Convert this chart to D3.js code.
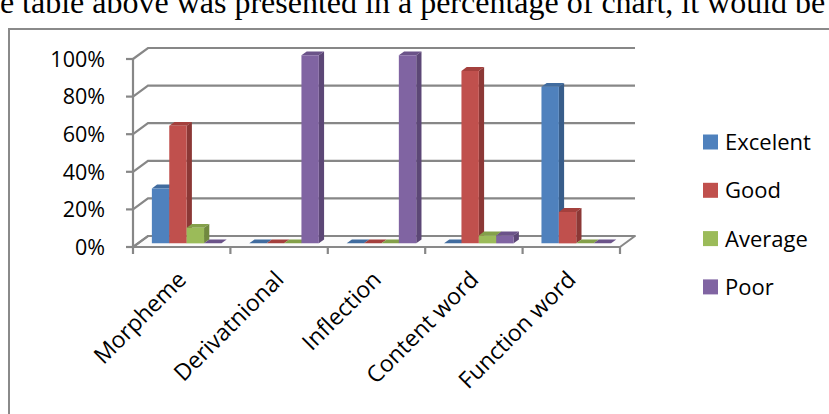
<!DOCTYPE html>
<html>
<head>
<meta charset="utf-8">
<script src="https://cdn.jsdelivr.net/npm/d3@7"></script>
<style>
  body { margin: 0; background: #fff; }
  svg { display: block; }
  .lbl { font-family: 'Open Sans', sans-serif; font-size: 21.5px; fill: #000; }
  .cat { font-size: 23px; }
  .leg { font-size: 22px; }
</style>
</head>
<body>
<div id="chart"></div>
<script>
'use strict';

// data (share of students, 0..1)
const categories = ['Morpheme', 'Derivatnional', 'Inflection', 'Content word', 'Function word'];
const series = ['Excelent', 'Good', 'Average', 'Poor'];
const excelent = [0.292, 0, 0, 0, 0.833];
const good = [0.625, 0, 0, 0.917, 0.167];
const average = [0.083, 0, 0, 0.042, 0];
const poor = [0, 1, 1, 0.042, 0];
const yTicks = [0, 0.2, 0.4, 0.6, 0.8, 1];

const values = [excelent, good, average, poor];
const faceColor = ['#4f81bd', '#c0504d', '#9bbb59', '#8064a2'];
const sideColor = ['#385d8a', '#8c3836', '#71893f', '#5c4776'];
const topColor = ['#416c9f', '#a4403d', '#84a04a', '#6b5389'];

const width = 829, height = 414;
const gridColor = '#878787';

// 3d box: front plane plus a depth vector
const DX = 15, DY = -11;
const barF0 = 0.33, barF1 = 0.68;

let svg = d3.select('#chart').append('svg')
    .attr('width', width)
    .attr('height', height);

// bit of the page text above the chart
svg.append('text')
    .attr('x', -25)
    .attr('y', 13)
    .style('font-family', "'Liberation Serif', serif")
    .style('font-size', '32px')
    .text('the table above was presented in a percentage of chart, it would be');

// chart frame
svg.append('rect')
    .attr('x', 9)
    .attr('y', 29)
    .attr('width', 840)
    .attr('height', 420)
    .attr('fill', 'none')
    .attr('stroke', '#8a8a8a')
    .attr('stroke-width', 2);

let x0 = d3.scaleBand()
    .domain(categories)
    .range([133, 620])
    .paddingInner(0)
    .paddingOuter(0);

let x1 = d3.scaleBand()
    .domain(series)
    .range([0, x0.bandwidth()])
    .paddingInner(0)
    .paddingOuter(0.8);

let y = d3.scaleLinear()
    .domain([0, 1])
    .range([247, 59]);

// point on the front plane pushed back by depth f
function pt(x, v, f) {
    return [x + f * DX, y(v) + f * DY];
}
let line = d3.line();

let xl = x0.range()[0], xr = x0.range()[1];

// floor
svg.append('path')
    .attr('d', line([pt(xl, 0, 0), pt(xr, 0, 0), pt(xr, 0, 1), pt(xl, 0, 1)]) + 'Z')
    .attr('fill', '#fbfbfb')
    .attr('stroke', gridColor)
    .attr('stroke-width', 2)
    .attr('stroke-linejoin', 'round');

// gridlines on the side and back wall
let grid = svg.append('g')
    .attr('fill', 'none')
    .attr('stroke', gridColor)
    .attr('stroke-width', 2.2);

yTicks.forEach(function(t) {
    grid.append('path')
        .attr('d', line([pt(xl, t, 0), pt(xl, t, 1), pt(xr, t, 1)]));
});

// value axis and ticks
grid.append('line')
    .attr('x1', xl).attr('x2', xl)
    .attr('y1', y(1)).attr('y2', y(0) + 7);
yTicks.forEach(function(t) {
    grid.append('line')
        .attr('x1', xl - 7).attr('x2', xl)
        .attr('y1', y(t)).attr('y2', y(t));
});

// category ticks
x0.domain().forEach(function(c) {
    let xx = x0(c) + x0.bandwidth();
    grid.append('line')
        .attr('x1', xx).attr('x2', xx)
        .attr('y1', y(0)).attr('y2', y(0) + 7);
});

// bars, drawn left to right so each front covers the side before it
let bars = svg.append('g');
categories.forEach(function(c, ci) {
    series.forEach(function(s, si) {
        let v = values[si][ci];
        let a = x0(c) + x1(s);
        let b = a + x1.bandwidth();
        let g = bars.append('g');
        g.append('path')
            .attr('d', line([pt(a, v, barF0), pt(b, v, barF0), pt(b, v, barF1), pt(a, v, barF1)]) + 'Z')
            .attr('fill', topColor[si]);
        if (v > 0) {
            g.append('path')
                .attr('d', line([pt(b, 0, barF0), pt(b, 0, barF1), pt(b, v, barF1), pt(b, v, barF0)]) + 'Z')
                .attr('fill', sideColor[si]);
            g.append('path')
                .attr('d', line([pt(a, 0, barF0), pt(b, 0, barF0), pt(b, v, barF0), pt(a, v, barF0)]) + 'Z')
                .attr('fill', faceColor[si]);
        }
    });
});

// value labels
svg.append('g')
    .selectAll('text')
    .data(yTicks)
    .join('text')
    .attr('class', 'lbl')
    .attr('x', 105)
    .attr('y', d => y(d))
    .attr('dy', '0.36em')
    .attr('text-anchor', 'end')
    .text(d3.format('.0%'));

// category labels at 45 degrees
svg.append('g')
    .selectAll('text')
    .data(categories)
    .join('text')
    .attr('class', 'lbl cat')
    .attr('text-anchor', 'end')
    .attr('transform', d => 'translate(' + (x0(d) + x0.bandwidth() / 2 + 6) + ',281) rotate(-45)')
    .text(d => d);

// legend
let legend = svg.append('g')
    .selectAll('g')
    .data(series)
    .join('g')
    .attr('transform', (d, i) => 'translate(703,' + (142 + i * 48.3) + ')');
legend.append('rect')
    .attr('x', 0).attr('y', -7.5)
    .attr('width', 15).attr('height', 15)
    .attr('fill', (d, i) => faceColor[i]);
legend.append('text')
    .attr('class', 'lbl leg')
    .attr('x', 22)
    .attr('dy', '0.36em')
    .text(d => d);
</script>
</body>
</html>
